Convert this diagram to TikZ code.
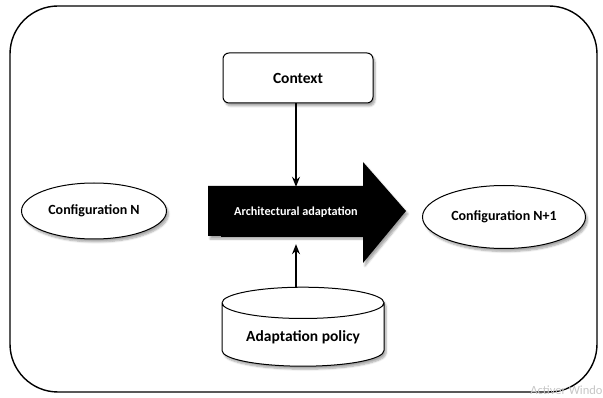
\documentclass[tikz,border=0pt]{standalone}
\usepackage{fontspec}
\setmainfont{Carlito}
\usetikzlibrary{shapes.geometric, shadows.blur, arrows.meta}

\begin{document}
\begin{tikzpicture}[x = 1pt, y = -1pt, font = \bfseries,
    shade/.style = {blur shadow = {shadow xshift = 2pt, shadow yshift = -3pt,
      shadow opacity = 35, shadow blur steps = 6}},
    conf/.style = {ellipse, draw = black, line width = 1pt, fill = white, shade,
      inner sep = 0pt, font = \bfseries\fontsize{14}{16}\selectfont},
    ctxbox/.style = {rectangle, rounded corners = 6pt, draw = black, line width = 1pt,
      fill = white, shade, minimum width = 150pt, minimum height = 50pt,
      font = \bfseries\fontsize{15.5}{18}\selectfont},
    store/.style = {cylinder, shape border rotate = 90, shape aspect = 0.26,
      draw = black, line width = 1pt, fill = white, shade,
      minimum width = 162pt, minimum height = 79pt,
      font = \bfseries\fontsize{15.5}{18}\selectfont},
    link/.style = {-{Stealth[length = 10pt, width = 8pt]}, line width = 1.3pt}]

 \useasboundingbox (0,0) rectangle (603,398);
 \draw[rounded corners = 48pt, line width = 1.4pt] (10,6) rectangle (597,392);

 % the big arrow
 \fill[black, shade] (208,186) -- (363,186) -- (363,162) -- (406,211)
   -- (363,263) -- (363,236) -- (208,236) -- cycle;

 \path node[font = \bfseries\fontsize{12.2}{14}\selectfont, text = white, fill = black,
   minimum width = 150pt, minimum height = 50pt, inner sep = 0pt] (adaptlbl) at (296,212)
   {Architectural adaptation}

 node[ctxbox] (ctx) at (298,78) {Context}

 node[conf, minimum width = 145pt, minimum height = 56pt] (confn) at (94,211)
   {Configuration N}

 node[conf, minimum width = 163pt, minimum height = 63pt] (confnext) at (504,217)
   {Configuration N+1}

 node[store] (policy) at (303,337) {Adaptation policy};

 \draw[link] (ctx.south -| adaptlbl) -- (adaptlbl.north);
 \draw[link] (policy.north -| adaptlbl) -- ([yshift = -7pt]adaptlbl.south);

 \node[anchor = base east, text = gray!45, font = \fontsize{12.5}{14}\selectfont]
   (watermark) at (606,394) {Activer Windo};
\end{tikzpicture}
\end{document}
